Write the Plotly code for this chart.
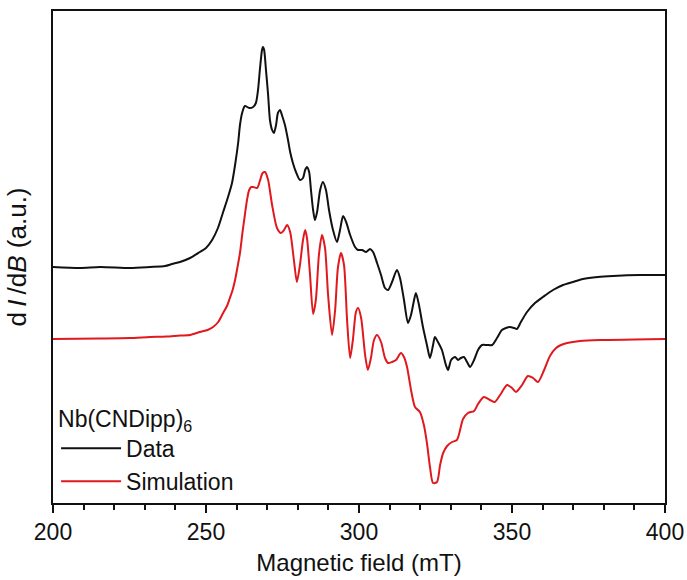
import plotly.graph_objects as go

# Magnetic field (mT) and intensity (a.u., offset spectra)
data_field = [200.0, 208.8, 215.4, 225.2, 231.7, 236.6, 238.9, 241.5, 244.8, 248.0, 250.0, 252.0, 253.9,
              255.6, 257.2, 258.5, 259.5, 260.5, 261.1, 261.8, 262.7, 264.1, 265.4, 266.3, 267.0, 267.6,
              268.3, 268.6, 269.0, 269.6, 270.3, 270.9, 271.6, 272.2, 272.9, 273.5, 274.2, 274.8, 275.8,
              276.8, 277.5, 278.4, 279.4, 280.7, 281.7, 282.4, 283.0, 283.7, 284.3, 285.0, 285.6, 286.3,
              287.3, 288.2, 289.2, 290.2, 291.5, 292.8, 293.8, 294.8, 295.8, 297.1, 298.7, 299.7, 301.0,
              302.3, 303.6, 304.6, 305.9, 307.2, 308.5, 309.5, 310.8, 312.4, 313.4, 314.7, 316.0, 317.0,
              318.0, 318.6, 319.6, 320.9, 322.2, 323.2, 324.2, 324.8, 325.8, 327.1, 328.4, 329.1, 330.1,
              331.4, 332.4, 333.3, 334.3, 335.3, 336.3, 337.6, 338.9, 340.2, 341.8, 343.5, 345.1, 346.7,
              348.0, 349.3, 350.7, 351.6, 352.9, 354.9, 357.5, 360.1, 363.4, 366.7, 369.9, 373.2, 378.1,
              383.0, 391.8, 400.0]
data_signal = [236, 235, 236, 235, 236, 237, 239, 241, 245, 251, 255, 263, 275,
               291, 306, 320, 338, 360, 378, 390, 397, 395, 396, 400, 413, 433,
               453, 456, 453, 433, 408, 383, 373, 370, 378, 390, 393, 388, 378,
               363, 351, 340, 331, 323, 325, 333, 336, 331, 313, 293, 283, 291,
               313, 321, 313, 293, 273, 261, 273, 287, 281, 268, 256, 253, 253,
               251, 254, 251, 240, 228, 215, 213, 221, 233, 225, 203, 180, 188,
               203, 210, 198, 176, 158, 145, 158, 166, 161, 153, 138, 133, 143,
               146, 143, 145, 146, 141, 136, 143, 153, 158, 158, 158, 165, 173,
               175, 176, 175, 174, 181, 191, 200, 206, 213, 218, 221, 224, 226,
               227, 228, 228]

sim_field = [200.0, 215.4, 225.0, 231.7, 237.0, 241.5, 244.8, 248.0, 250.5, 252.3, 254.0, 255.6, 257.0,
             257.8, 258.7, 259.5, 260.3, 261.1, 261.9, 262.7, 263.4, 264.1, 264.8, 265.4,
             266.7, 267.6, 268.5, 269.3, 270.3, 271.6, 273.2, 274.5, 275.5, 276.5, 277.5, 278.8, 279.7, 280.7,
             281.7, 282.4, 283.0, 284.0, 285.0, 285.9, 286.9, 287.9, 288.9, 289.9, 291.2, 292.2, 293.1,
             294.1, 295.1, 296.1, 297.1, 298.0, 299.0, 299.7, 300.7, 302.0, 302.9, 303.9, 304.9, 305.9,
             307.2, 308.5, 309.5, 310.8, 312.1, 313.7, 314.7, 315.7, 317.0, 318.3, 319.9, 321.2, 322.2,
             323.2, 324.2, 325.5, 326.5, 327.5, 328.8, 330.4, 332.0, 334.0, 335.6, 337.6, 338.9, 340.8,
             342.8, 344.4, 346.1, 348.4, 350.0, 351.3, 353.3, 355.2, 356.9, 358.5, 360.5, 362.4, 364.4,
             366.0, 368.0, 372.2, 378.8, 390.0, 400.0]
sim_signal = [164, 164.5, 165, 166, 166.5, 167.5, 168, 171, 173, 176, 181, 190, 198,
              205, 213, 223, 236, 250, 270, 288, 303, 313, 316, 316,
              315, 322, 330, 331, 323, 298, 275, 270, 273, 278, 271, 241, 221, 238,
              263, 273, 265, 228, 189, 203, 248, 268, 255, 208, 168, 193, 235,
              250, 238, 183, 145, 163, 191, 195, 185, 148, 133, 145, 163, 168,
              161, 145, 140, 141, 143, 150, 146, 136, 113, 96, 91, 78, 60,
              36, 20, 21, 38, 50, 57, 61, 63, 84, 90, 92, 99, 106,
              103, 101, 108, 118, 115, 111, 118, 127, 125, 121, 133, 147, 155,
              158, 160, 162, 163, 163.5, 164]

x_ticks = [200, 250, 300, 350, 400]

FONT = "Liberation Sans, Arial, sans-serif"
INK = "#111111"

fig = go.Figure()
fig.add_trace(go.Scatter(x=data_field, y=data_signal, mode="lines", name="Data",
                         line=dict(color=INK, width=2, shape="spline", smoothing=0.7)))
fig.add_trace(go.Scatter(x=sim_field, y=sim_signal, mode="lines", name="Simulation",
                         line=dict(color="#e0191e", width=2, shape="spline", smoothing=0.7)))

fig.update_layout(
    width=687, height=580,
    margin=dict(l=53, r=22, t=11, b=77),
    paper_bgcolor="white", plot_bgcolor="white",
    font=dict(family=FONT, color=INK),
    showlegend=True,
    legend=dict(
        x=0.005, y=0.0, xanchor="left", yanchor="bottom",
        bgcolor="rgba(0,0,0,0)",
        font=dict(size=23, family=FONT, color=INK),
        title=dict(text="Nb(CNDipp)<sub>6</sub>", font=dict(size=23, family=FONT, color=INK)),
        tracegroupgap=0, itemwidth=60,
    ),
    xaxis=dict(
        range=[200, 400], tickvals=x_ticks, ticktext=[str(v) for v in x_ticks],
        showline=True, linecolor=INK, linewidth=1.5, mirror=True,
        ticks="outside", ticklen=8, tickwidth=1.5, tickcolor=INK,
        minor=dict(dtick=10, ticks="outside", ticklen=5, tickwidth=1.5, tickcolor=INK),
        showgrid=False, zeroline=False,
        tickfont=dict(size=23, family=FONT, color=INK),
        title=dict(text="Magnetic field (mT)", font=dict(size=24, family=FONT, color=INK), standoff=10),
        automargin=False,
    ),
    yaxis=dict(
        range=[0, 492],
        showline=True, linecolor=INK, linewidth=1.5, mirror=True,
        ticks="", showticklabels=False, showgrid=False, zeroline=False,
        title=dict(text="d\u2009<i>I</i>\u2009/d<i>B</i> (a.u.)", font=dict(size=26, family=FONT, color=INK), standoff=17),
        automargin=False,
    ),
)

fig.write_html("out.html")
